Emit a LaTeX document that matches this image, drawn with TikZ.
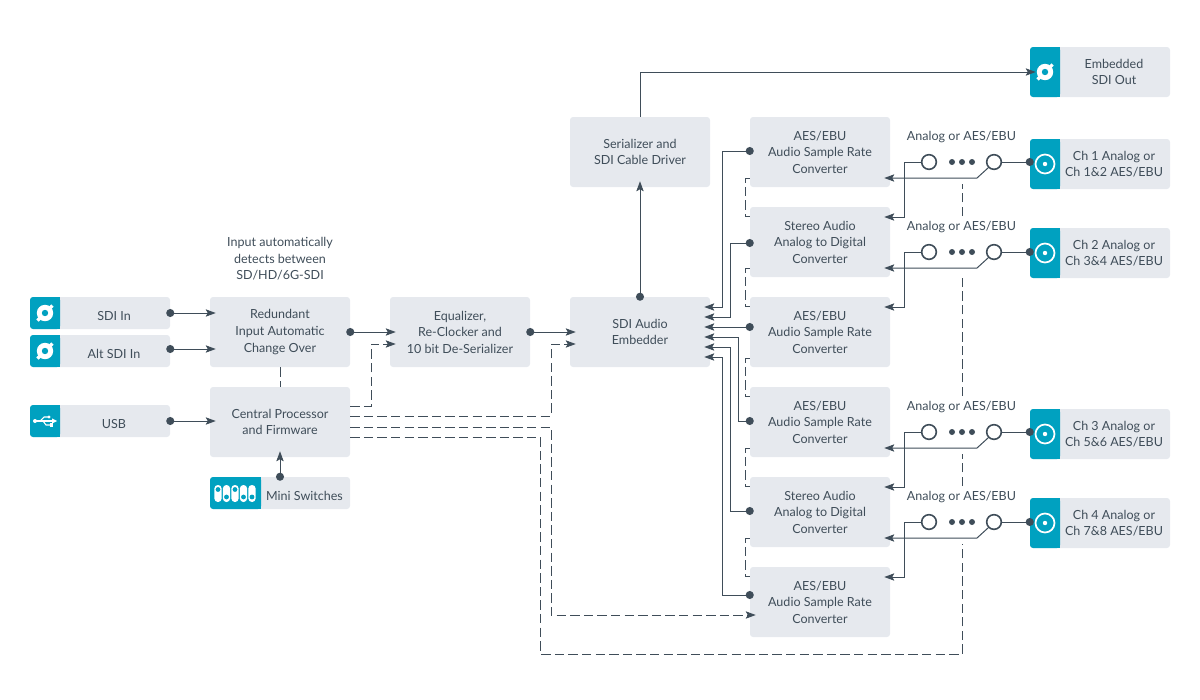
\documentclass[tikz,border=0pt]{standalone}
\usepackage{fontspec}
\setmainfont{Lato}
\usetikzlibrary{arrows.meta,positioning,calc}

\definecolor{boxgrey}{HTML}{E6E9EE}
\definecolor{portteal}{HTML}{00A1C0}
\definecolor{inkcol}{HTML}{3F4D59}

\tikzset{
  block/.style={fill=boxgrey, rounded corners=2.25pt, minimum width=105pt, minimum height=52.5pt,
    inner sep=0pt, align=center, text=inkcol, font=\fontsize{9.4}{12.4}\selectfont,
    execute at begin node={\rule{0pt}{10.8pt}}},
  porttext/.style={inner sep=0pt, align=center, text=inkcol, font=\fontsize{9.4}{12.4}\selectfont,
    execute at begin node={\rule{0pt}{10.8pt}}},
  note/.style={inner sep=0pt, align=center, text=inkcol, font=\fontsize{9.4}{12.4}\selectfont},
  porticon/.style={fill=portteal, rounded corners=2.25pt, inner sep=0pt},
  swcircle/.style={circle, draw=inkcol, fill=white, line width=1.2pt, minimum size=11pt, inner sep=0pt},
  sig/.style={draw=inkcol, line width=0.75pt, -{Stealth[length=7.5pt, width=5.5pt, inset=1.5pt]}, shorten >=-4.5pt},
  dotsig/.style={sig, {Circle[length=6pt]}-{Stealth[length=7.5pt, width=5.5pt, inset=1.5pt]}, shorten <=-3pt},
  ctl/.style={draw=inkcol, line width=0.7pt, dash pattern=on 7pt off 3.2pt},
  ctlsig/.style={ctl, -{Stealth[length=7.5pt, width=5.5pt, inset=1.5pt]}, shorten >=-4.5pt},
}

% name, left, top, icon width, height, text
\newcommand{\portbox}[6]{
  \begin{scope}[shift={(#2,#3)}]
    \fill[boxgrey, rounded corners=2.25pt] (0,0) rectangle (140,#5);
    \node[porticon, minimum width=#4*0.75pt, minimum height=#5*0.75pt] (#1 icon) at ({#4/2},{#5/2}) {};
    \fill[portteal] ({#4-5},0) rectangle (#4,#5);
    \node[porttext, minimum width={(140-#4)*0.75pt}, minimum height=#5*0.75pt] (#1) at ({(140+#4)/2},{#5/2}) {};
    \node[porttext] (#1 text) at ({(140+#4)/2-1},{#5/2}) {#6};
  \end{scope}
}
\newcommand{\sdiicon}[1]{
  \begin{scope}[shift={(#1)}]
    \fill[white] (0,0) circle (8.2);
    \draw[white, line width=2.4pt] (-7.5,7.5) -- (7.5,-7.5);
    \fill[portteal] (0,0) circle (3.2);
  \end{scope}
}
\newcommand{\bncicon}[1]{
  \draw[white, line width=1.3pt] (#1) circle (9.5);
  \fill[white] (#1) circle (2.2);
}
\newcommand{\usbicon}[1]{
  \begin{scope}[shift={(#1)}]
    \draw[white, line width=0.9pt] (-10,0) -- (8,0);
    \fill[white] (-10,0) circle (2);
    \fill[white] (12,0) -- (7,-2.6) -- (7,2.6) -- cycle;
    \draw[white, line width=0.8pt] (-5,0) -- (-1,-4) -- (3,-4);
    \fill[white] (4,-4) circle (1.7);
    \draw[white, line width=0.8pt] (-2,0) -- (1,4) -- (5,4);
    \fill[white] (4.5,2.4) rectangle (7.5,5.6);
  \end{scope}
}

\begin{document}
\begin{tikzpicture}[x=0.75pt, y=-0.75pt]
\useasboundingbox (0,0) rectangle (1200,700);

% blocks
\node[block] (redundant) at (280,332) {Redundant\\Input Automatic\\Change Over};
\node[block] (central) at (280,422) {Central Processor\\and Firmware};
\node[block] (equalizer) at (460,332) {Equalizer,\\Re-Clocker and\\10 bit De-Serializer};
\node[block] (embedder) at (640,332) {SDI Audio\\Embedder};
\node[block] (serializer) at (640,152) {Serializer and\\SDI Cable Driver};
\node[block] (aesa) at (820,152) {AES/EBU\\Audio Sample Rate\\Converter};
\node[block] (stereoa) at (820,242) {Stereo Audio\\Analog to Digital\\Converter};
\node[block] (aesb) at (820,332) {AES/EBU\\Audio Sample Rate\\Converter};
\node[block] (aesc) at (820,422) {AES/EBU\\Audio Sample Rate\\Converter};
\node[block] (stereob) at (820,512) {Stereo Audio\\Analog to Digital\\Converter};
\node[block] (aesd) at (820,602) {AES/EBU\\Audio Sample Rate\\Converter};
\node[note] (autonote) at (280,259) {Input automatically\\detects between\\SD/HD/6G-SDI};

% ports
\portbox{sdiin}{30}{297}{30}{32}{SDI In}
\portbox{altin}{30}{335}{30}{32}{Alt SDI In}
\portbox{usb}{30}{405}{30}{32}{USB}
\portbox{switches}{210}{477}{51}{32}{Mini Switches}
\portbox{sdiout}{1030}{47}{30}{50}{Embedded\\SDI Out}
\portbox{cha}{1030}{139}{30}{50}{Ch 1 Analog or\\Ch 1\&2 AES/EBU}
\portbox{chb}{1030}{228}{30}{50}{Ch 2 Analog or\\Ch 3\&4 AES/EBU}
\portbox{chc}{1030}{409}{30}{50}{Ch 3 Analog or\\Ch 5\&6 AES/EBU}
\portbox{chd}{1030}{498}{30}{50}{Ch 4 Analog or\\Ch 7\&8 AES/EBU}

% icons
\sdiicon{sdiin icon.center}
\sdiicon{altin icon.center}
\sdiicon{sdiout icon.center}
\usbicon{usb icon.center}
\foreach \c in {cha,chb,chc,chd} {\bncicon{\c\space icon.center}}
\foreach \px/\py in {218/489.5,226.5/497,235/489.5,243.5/497,252/497} {
  \fill[white, rounded corners=2.6pt] ({\px-3.6},485) rectangle ({\px+3.6},502);
  \fill[portteal] (\px,\py) circle (2.4);
}

% left side signals
\draw[dotsig] (sdiin.east) -- (redundant.west|-sdiin.east);
\draw[dotsig] (altin.east|-0,349) -- (redundant.west|-0,349);
\draw[dotsig] (usb.east) -- (central.west|-usb.east);
\draw[dotsig] (switches.north-|central.south) -- (central.south);
\draw[dotsig] (redundant.east) -- (equalizer.west);
\draw[dotsig] (equalizer.east) -- (embedder.west);
\draw[dotsig] (embedder.north) -- (serializer.south);
\draw[sig] (serializer.north) |- (sdiout icon.west);

% control lines
\draw[ctl] (redundant.south) -- (central.north);
\draw[ctlsig] (central.east|-0,406) -| (371,344) -- (equalizer.west|-0,344);
\draw[ctlsig] (central.east|-0,416) -| (551,344) -- (embedder.west|-0,344);
\draw[ctlsig] (central.east|-0,427) -| (551,615) -- (aesd.west|-0,615);
\draw[ctl] (central.east|-0,437) -| (540.5,654) -| (962.5,544);
\draw[ctl] (962.5,486) -- (962.5,454);
\draw[ctl] (962.5,396) -- (962.5,274);
\draw[ctl] (962.5,216) -- (962.5,184);
\foreach \top/\bot/\ya/\yb in {aesa/stereoa/178/216,stereoa/aesb/268/306,aesb/aesc/358/396,aesc/stereob/448/486,stereob/aesd/538/576} {
  \draw[ctl] (\top.west|-0,\ya) -| (745,\yb) -- (\bot.west|-0,\yb);
}

% converters to embedder
\draw[dotsig] (aesa.west|-0,151) -| (722,307) -- (embedder.east|-0,307);
\draw[dotsig] (stereoa.west|-0,243) -| (730,317) -- (embedder.east|-0,317);
\draw[dotsig] (aesb.west|-0,327) -- (embedder.east|-0,327);
\draw[dotsig] (aesc.west|-0,421) -| (738,337) -- (embedder.east|-0,337);
\draw[dotsig] (stereob.west|-0,511) -| (730,347) -- (embedder.east|-0,347);
\draw[dotsig] (aesd.west|-0,595) -| (722,357) -- (embedder.east|-0,357);

% switches
\foreach \ch/\y/\yarm/\ydown/\conva/\convb/\ylab in {cha/162/178/217/aesa/stereoa/137,chb/252/268/307/stereoa/aesb/227,chc/432/448/487/aesc/stereob/407,chd/522/538/577/stereob/aesd/497} {
  \node[swcircle] (\ch l) at (929,\y) {};
  \node[swcircle] (\ch r) at (994,\y) {};
  \node[note] (\ch lab) at (961.5,\ylab) {Analog or AES/EBU};
  \foreach \dx in {952,962,972} {\fill[inkcol] (\dx,\y) circle (3);}
  \draw[sig] (\ch l.west) -| (904,\ydown) -- (\convb.east|-0,\ydown);
  \draw[sig] (\ch r.south west) -- (977,\yarm) -- (\conva.east|-0,\yarm);
  \draw[draw=inkcol, line width=0.75pt, {Circle[length=6pt]}-, shorten <=-3pt] (\ch\space icon.west|-0,\y) -- (\ch r.east);
}
\end{tikzpicture}
\end{document}
